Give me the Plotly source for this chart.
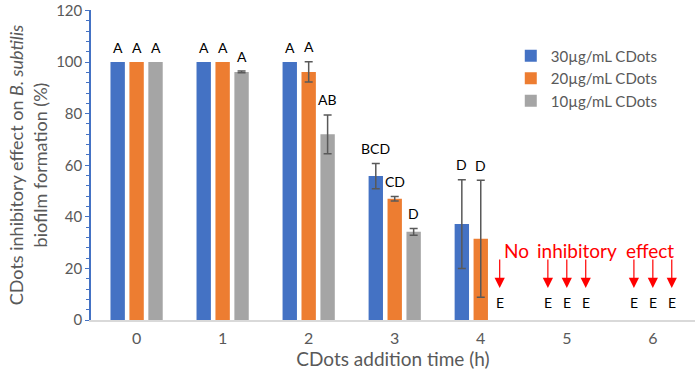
import plotly.graph_objects as go

times = [0, 1, 2, 3, 4, 5, 6]
tick_labels = ["0", "1", "2", "3", "4", "5", "6"]
series_names = ["30µg/mL CDots", "20µg/mL CDots", "10µg/mL CDots"]
c30 = [100, 100, 100, 55.8, 37.2, 0, 0]
c20 = [100, 100, 96.2, 47.0, 31.5, 0, 0]
c10 = [100, 96.2, 72.0, 34.2, 0, 0, 0]
err30 = [None, None, None, 4.9, 17.2, None, None]
err20 = [None, None, 3.9, 0.9, 22.7, None, None]
err10 = [None, 0.3, 7.5, 1.3, None, None, None]
let30 = ["A", "A", "A", "BCD", "D", "E", "E"]
let20 = ["A", "A", "A", "CD", "D", "E", "E"]
let10 = ["A", "A", "AB", "D", "E", "E", "E"]
note_words = ["No", "inhibitory", "effect"]

colors = ["#4472C4", "#ED7D31", "#A5A5A5"]
values = [c30, c20, c10]
errors = [err30, err20, err10]
letters = [let30, let20, let10]

BARGAP = 0.34
GROUPGAP = 0.24
slot = (1 - BARGAP) / 3
FONT = "Lato, 'Open Sans', sans-serif"

fig = go.Figure()
for k in range(3):
    fig.add_trace(go.Bar(
        x=times, y=values[k], name=series_names[k],
        legendgroup=f"g{k}", offsetgroup=str(k),
        marker=dict(color=colors[k], line=dict(width=0)),
        hovertemplate="%{y}<extra></extra>",
    ))
for k in range(3):
    idx = [i for i, e in enumerate(errors[k]) if e is not None]
    fig.add_trace(go.Bar(
        x=[times[i] for i in idx], y=[values[k][i] for i in idx],
        error_y=dict(type="data", array=[errors[k][i] for i in idx], visible=True,
                     color="#595959", thickness=1.5, width=4),
        offsetgroup=str(k), legendgroup=f"g{k}", showlegend=False,
        marker=dict(color="rgba(0,0,0,0)", line=dict(width=0)),
        hoverinfo="skip",
    ))

annotations = []
for k in range(3):
    off = (k - 1) * slot
    for i, t in enumerate(times):
        xp = t + off
        lab = letters[k][i]
        v = values[k][i]
        if lab == "E" and v == 0:
            annotations.append(dict(x=xp, y=0, xref="x", yref="y", text="E",
                                    showarrow=False, yanchor="middle", yshift=18,
                                    font=dict(size=14, color="#000000", family=FONT)))
            annotations.append(dict(x=xp, y=0, xref="x", yref="y", text="",
                                    showarrow=True, ax=0, ay=-30, yshift=32,
                                    arrowhead=2, arrowsize=1.7, arrowwidth=1.2,
                                    arrowcolor="#FF0000"))
        else:
            e = errors[k][i] or 0
            top = v + e
            annotations.append(dict(x=xp, y=top, xref="x", yref="y", text=lab,
                                    showarrow=False, yanchor="middle", yshift=15,
                                    font=dict(size=14, color="#000000", family=FONT)))

note_x = [4.41, 5.12, 5.97]
for w, xx in zip(note_words, note_x):
    annotations.append(dict(x=xx, y=26.9, xref="x", yref="y", text=w, showarrow=False,
                            font=dict(size=19, color="#FF0000", family=FONT)))

fig.update_layout(
    width=699, height=379,
    margin=dict(l=91, r=4, t=10, b=59, autoexpand=False),
    paper_bgcolor="white", plot_bgcolor="white",
    barmode="group", bargap=BARGAP, bargroupgap=GROUPGAP,
    font=dict(family=FONT, color="#595959", size=15),
    showlegend=True,
    legend=dict(x=0.695, y=0.905, xanchor="left", yanchor="top",
                font=dict(size=15, color="#595959", family=FONT),
                bgcolor="rgba(0,0,0,0)", tracegroupgap=0, traceorder="grouped",
                itemwidth=30),
    annotations=annotations,
    xaxis=dict(range=[-0.53, 6.49], tickmode="array", tickvals=times, ticktext=tick_labels,
               automargin=False,
               showline=True, linecolor="#D9D9D9", linewidth=1.5,
               ticks="outside", ticklen=3, tickcolor="rgba(0,0,0,0)",
               showgrid=False, zeroline=False,
               tickfont=dict(size=16, color="#595959"),
               title=dict(text="CDots addition time (h)", font=dict(size=19, color="#595959"),
                          standoff=4)),
    yaxis=dict(range=[0, 120.2], tickvals=[0, 20, 40, 60, 80, 100, 120],
               ticklabeloverflow="allow", automargin=False,
               showline=True, linecolor="#4472C4", linewidth=1.5,
               ticks="outside", ticklen=4, tickcolor="#4472C4", tickwidth=1.2,
               minor=dict(dtick=4, ticks="outside", ticklen=3, tickcolor="#4472C4", tickwidth=1),
               showgrid=False, zeroline=False,
               tickfont=dict(size=15, color="#595959"),
               title=dict(text="CDots inhibitory effect on <i>B. subtilis</i><br>biofilm formation (%)",
                          font=dict(size=18, color="#595959"), standoff=4)),
)

fig.write_html("out.html", config={"displayModeBar": False},
               post_script="document.body.style.margin='0';")
